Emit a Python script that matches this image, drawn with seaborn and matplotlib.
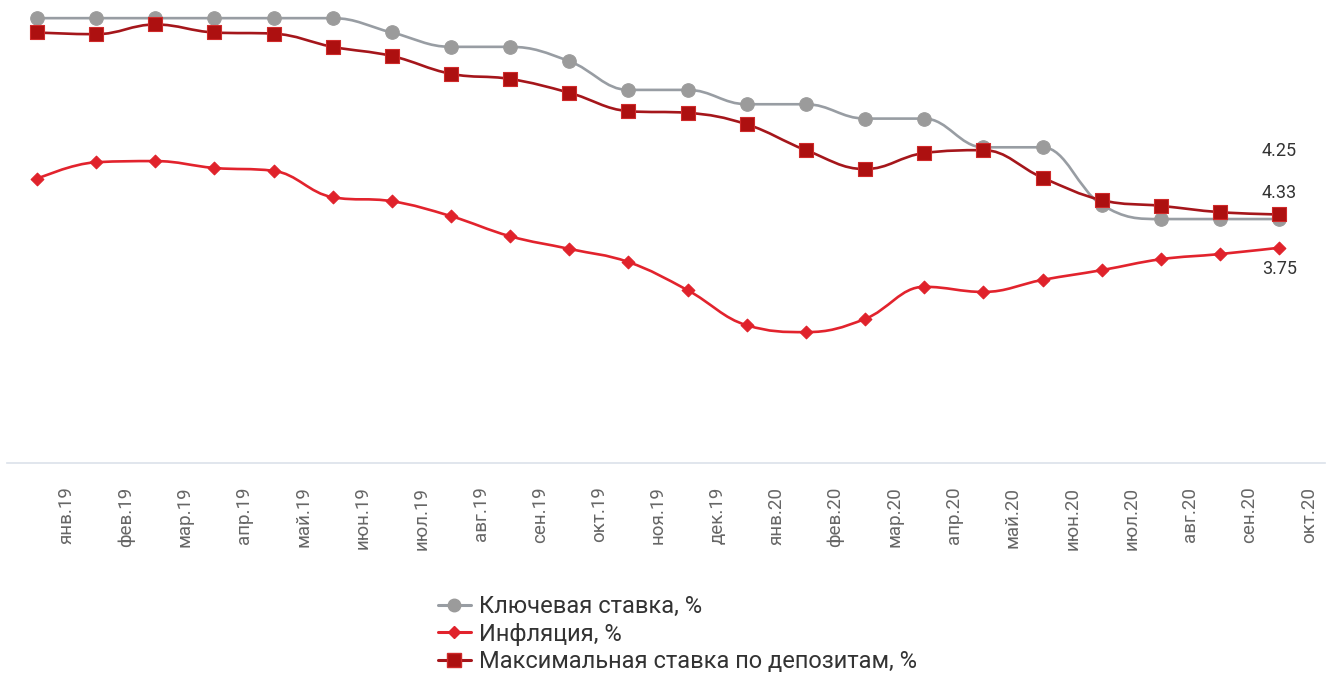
import matplotlib
matplotlib.use("Agg")
import matplotlib.pyplot as plt
import seaborn as sns
import pandas as pd
from matplotlib.path import Path
from matplotlib.patches import PathPatch
from matplotlib.lines import Line2D

# Monthly data, Jan 2019 - Oct 2020
months = ["янв.19", "фев.19", "мар.19", "апр.19", "май.19", "июн.19",
          "июл.19", "авг.19", "сен.19", "окт.19", "ноя.19", "дек.19",
          "янв.20", "фев.20", "мар.20", "апр.20", "май.20", "июн.20",
          "июл.20", "авг.20", "сен.20", "окт.20"]

key_rate = [7.75, 7.75, 7.75, 7.75, 7.75, 7.75, 7.50, 7.25, 7.25, 7.00, 6.50,
            6.50, 6.25, 6.25, 6.00, 6.00, 5.50, 5.50, 4.50, 4.25, 4.25, 4.25]
inflation = [4.95, 5.24, 5.26, 5.14, 5.09, 4.63, 4.56, 4.30, 3.95, 3.73, 3.50,
             3.01, 2.40, 2.28, 2.51, 3.07, 2.98, 3.19, 3.36, 3.55, 3.64, 3.75]
deposit_max = [7.50, 7.47, 7.64, 7.50, 7.48, 7.25, 7.09, 6.78, 6.69, 6.45, 6.13,
               6.10, 5.90, 5.45, 5.12, 5.40, 5.45, 4.97, 4.58, 4.48, 4.37, 4.33]

series_names = ["Ключевая ставка, %", "Инфляция, %", "Максимальная ставка по депозитам, %"]

sns.set_theme(style="white")
plt.rcParams["font.family"] = ["Roboto", "DejaVu Sans"]

fig = plt.figure(figsize=(13.3, 6.73), dpi=100)
ax = fig.add_axes([7 / 1330, 210 / 673, 1318 / 1330, 459.2 / 673])

idx = list(range(len(months)))
df = pd.DataFrame({"idx": idx, "key": key_rate, "infl": inflation, "dep": deposit_max})


def spline_path(xs, ys, smoothing=1.5):
    """Cubic Bezier path through the points with spline-style smoothing."""
    n = len(xs)
    denom = smoothing + 1
    left, right = [None] * n, [None] * n
    for i in range(n):
        x, y = xs[i], ys[i]
        if 0 < i < n - 1:
            lx, ly = xs[i - 1], ys[i - 1]
            nx, ny = xs[i + 1], ys[i + 1]
            lcx, lcy = (smoothing * x + lx) / denom, (smoothing * y + ly) / denom
            rcx, rcy = (smoothing * x + nx) / denom, (smoothing * y + ny) / denom
            if rcx != lcx:
                corr = ((rcy - lcy) * (rcx - x)) / (rcx - lcx) + y - rcy
                lcy += corr
                rcy += corr
            if lcy > ly and lcy > y:
                lcy = max(ly, y); rcy = 2 * y - lcy
            elif lcy < ly and lcy < y:
                lcy = min(ly, y); rcy = 2 * y - lcy
            if rcy > ny and rcy > y:
                rcy = max(ny, y); lcy = 2 * y - rcy
            elif rcy < ny and rcy < y:
                rcy = min(ny, y); lcy = 2 * y - rcy
            left[i], right[i] = (lcx, lcy), (rcx, rcy)
        else:
            left[i] = right[i] = (x, y)
    verts = [(xs[0], ys[0])]
    codes = [Path.MOVETO]
    for i in range(1, n):
        verts += [right[i - 1], left[i], (xs[i], ys[i])]
        codes += [Path.CURVE4] * 3
    return Path(verts, codes)


styles = [
    # column, line colour, marker, marker face, marker edge, marker area
    ("key", "#989da3", "o", "#9b9b9b", "#9b9b9b", 95),
    ("infl", "#e2232d", "D", "#e0222b", "#e0222b", 42),
    ("dep", "#a5161b", "s", "#ad1010", "#cf2a2a", 110),
]

for col, lc, mk, mf, me, ms in styles:
    ax.add_patch(PathPatch(spline_path(df["idx"].tolist(), df[col].tolist()),
                           facecolor="none", edgecolor=lc, lw=1.9,
                           capstyle="round", joinstyle="round", zorder=2))
    sns.scatterplot(data=df, x="idx", y=col, ax=ax, marker=mk, s=ms,
                    color=mf, edgecolor=me, linewidth=0.8, zorder=3, legend=False)

ax.set_xlim(-0.507, 21.775)
ax.set_ylim(0, 8)
ax.set_xlabel("")
ax.set_ylabel("")
ax.set_yticks([])
ax.set_xticks([i + 0.5 for i in idx])
ax.set_xticklabels(months, rotation=90, ha="center", va="top",
                   color="#666666", fontsize=13.5)
ax.tick_params(axis="x", length=12, width=1, color="#ccd6eb", pad=5, direction="out")
for side in ["left", "right", "top"]:
    ax.spines[side].set_visible(False)
ax.spines["bottom"].set_color("#dbe1ea")
ax.spines["bottom"].set_linewidth(1.2)

# Value labels for the last month
last = len(idx) - 1
for col, dy in [("key", 49), ("dep", 15.5), ("infl", -15)]:
    v = df[col].iloc[last]
    ax.annotate(f"{v:.2f}", xy=(last, v), xytext=(0, dy), textcoords="offset points",
                ha="center", va="center", fontsize=13, color="#333333")

handles = [
    Line2D([], [], color=s[1], lw=2.2, marker=s[2], markersize=ms_,
           markerfacecolor=s[3], markeredgecolor=s[4])
    for s, ms_ in zip(styles, [9, 6.5, 10])
]
fig.legend(handles, series_names, loc="center left",
           bbox_to_anchor=(426 / 1330, 39 / 673), frameon=False,
           fontsize=17, labelcolor="#333333", handlelength=1.4,
           handletextpad=0.35, labelspacing=0.19, borderpad=0)

fig.savefig("out.png", dpi=100)
